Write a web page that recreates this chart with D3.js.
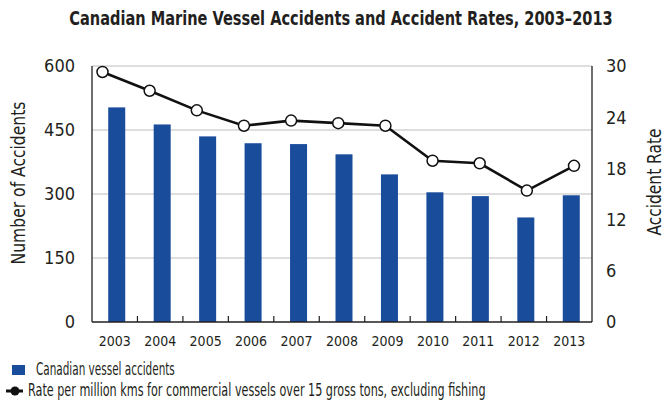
<!DOCTYPE html>
<html>
<head>
<meta charset="utf-8">
<script src="https://cdn.jsdelivr.net/npm/d3@7"></script>
<style>
  body { margin: 0; background: #fff; }
  text { font-family: 'DejaVu Sans Condensed', 'DejaVu Sans', sans-serif; fill: #231f20; }
</style>
</head>
<body>
<div id="chart"></div>
<script>
// Chart data
const years = ['2003', '2004', '2005', '2006', '2007', '2008', '2009', '2010', '2011', '2012', '2013']
const accidents = [503, 463, 435, 419, 417, 393, 346, 304, 295, 245, 297]
const rates = [29.3, 27.1, 24.8, 23.0, 23.6, 23.3, 23.0, 18.9, 18.6, 15.4, 18.3]
const leftTicks = [0, 150, 300, 450, 600]
const rightTicks = [0, 6, 12, 18, 24, 30]

const W = 665, H = 405
const margin = { top: 66, right: 73, bottom: 83, left: 92 }
const width = W - margin.left - margin.right,
      height = H - margin.top - margin.bottom

const svg = d3.select('#chart').append('svg')
  .attr('width', W)
  .attr('height', H)

const g = svg.append('g')
  .attr('transform', 'translate(' + margin.left + ',' + margin.top + ')')

// Scales
const xScale = d3.scaleBand().domain(years).range([0, width])
// the rate line sits on its own spread of points
const xLine = d3.scalePoint().domain(years).range([10.5, width - 18])
const yLeft = d3.scaleLinear().domain([0, 600]).range([height, 0])
const yRight = d3.scaleLinear().domain([0, 30]).range([height, 0])

// Condensed look: scale text horizontally to the reference width
function squeeze(sel, len, base) {
  let k = len / sel.node().getComputedTextLength()
  sel.attr('transform', base + ' scale(' + k + ',1)')
}

// Title
svg.append('text')
  .attr('text-anchor', 'middle')
  .style('font-size', '20px')
  .style('font-weight', 'bold')
  .text('Canadian Marine Vessel Accidents and Accident Rates, 2003\u20132013')
  .call(squeeze, 544, 'translate(341,25)')

// Grid lines (top one closes the frame)
g.selectAll('.grid')
  .data(leftTicks.filter(d => d > 0))
  .enter().append('line')
  .attr('x1', 0)
  .attr('x2', width)
  .attr('y1', d => yLeft(d))
  .attr('y2', d => yLeft(d))
  .attr('stroke', '#bdbdbd')
  .attr('stroke-width', 1.2)

// Bars
const barW = 17
g.selectAll('.bar')
  .data(accidents)
  .enter().append('rect')
  .attr('x', (d, i) => xScale(years[i]) + xScale.bandwidth() / 2 - barW / 2 + 2)
  .attr('y', d => yLeft(d))
  .attr('width', barW)
  .attr('height', d => height - yLeft(d))
  .attr('fill', '#1a4c9c')

// Frame: left, right, bottom
g.append('line').attr('x1', 0).attr('x2', 0).attr('y1', 0).attr('y2', height)
  .attr('stroke', '#231f20').attr('stroke-width', 1.3)
g.append('line').attr('x1', width).attr('x2', width).attr('y1', 0).attr('y2', height)
  .attr('stroke', '#231f20').attr('stroke-width', 1.3)
g.append('line').attr('x1', 0).attr('x2', width).attr('y1', height).attr('y2', height)
  .attr('stroke', '#231f20').attr('stroke-width', 1.6)

// Bottom ticks between bands
g.selectAll('.xtick')
  .data(years.slice(1))
  .enter().append('line')
  .attr('x1', d => xScale(d))
  .attr('x2', d => xScale(d))
  .attr('y1', height)
  .attr('y2', height - 6)
  .attr('stroke', '#231f20')
  .attr('stroke-width', 1.2)

// Year labels
g.selectAll('.xlabel')
  .data(years)
  .enter().append('text')
  .attr('x', d => xScale(d) + xScale.bandwidth() / 2)
  .attr('y', height + 24)
  .attr('text-anchor', 'middle')
  .style('font-size', '14px')
  .text(d => d)

// Left axis labels
g.selectAll('.ylabel')
  .data(leftTicks)
  .enter().append('text')
  .attr('x', -17)
  .attr('y', d => yLeft(d))
  .attr('dy', '0.36em')
  .attr('text-anchor', 'end')
  .style('font-size', '18px')
  .text(d => d)

// Right axis labels
g.selectAll('.rlabel')
  .data(rightTicks)
  .enter().append('text')
  .attr('x', width + 14)
  .attr('y', d => yRight(d))
  .attr('dy', '0.36em')
  .attr('text-anchor', 'start')
  .style('font-size', '18px')
  .text(d => d)

// Axis titles
svg.append('text')
  .attr('text-anchor', 'middle')
  .style('font-size', '20px')
  .text('Number of Accidents')
  .call(squeeze, 163, 'translate(25,' + (margin.top + 117) + ') rotate(-90)')

svg.append('text')
  .attr('text-anchor', 'middle')
  .style('font-size', '20px')
  .text('Accident Rate')
  .call(squeeze, 107, 'translate(661,' + (margin.top + 116) + ') rotate(-90)')

// Rate line
const line = d3.line()
  .x((d, i) => xLine(years[i]))
  .y(d => yRight(d))

g.append('path')
  .datum(rates)
  .attr('d', line)
  .attr('fill', 'none')
  .attr('stroke', '#111')
  .attr('stroke-width', 2.6)

g.selectAll('.point')
  .data(rates)
  .enter().append('circle')
  .attr('cx', (d, i) => xLine(years[i]))
  .attr('cy', d => yRight(d))
  .attr('r', 5.5)
  .attr('fill', '#fff')
  .attr('stroke', '#111')
  .attr('stroke-width', 1.5)

// Legend
const legend = svg.append('g')
legend.append('rect')
  .attr('x', 12).attr('y', 365).attr('width', 13).attr('height', 10)
  .attr('fill', '#1a4c9c')
legend.append('text')
  .style('font-size', '17px')
  .text('Canadian vessel accidents')
  .call(squeeze, 139, 'translate(36,375)')

legend.append('line')
  .attr('x1', 6).attr('x2', 23).attr('y1', 391).attr('y2', 391)
  .attr('stroke', '#111').attr('stroke-width', 3)
legend.append('circle')
  .attr('cx', 15).attr('cy', 391).attr('r', 4.5)
  .attr('fill', '#111')
legend.append('text')
  .style('font-size', '17px')
  .text('Rate per million kms for commercial vessels over 15 gross tons, excluding fishing')
  .call(squeeze, 458, 'translate(28,396)')
</script>
</body>
</html>
